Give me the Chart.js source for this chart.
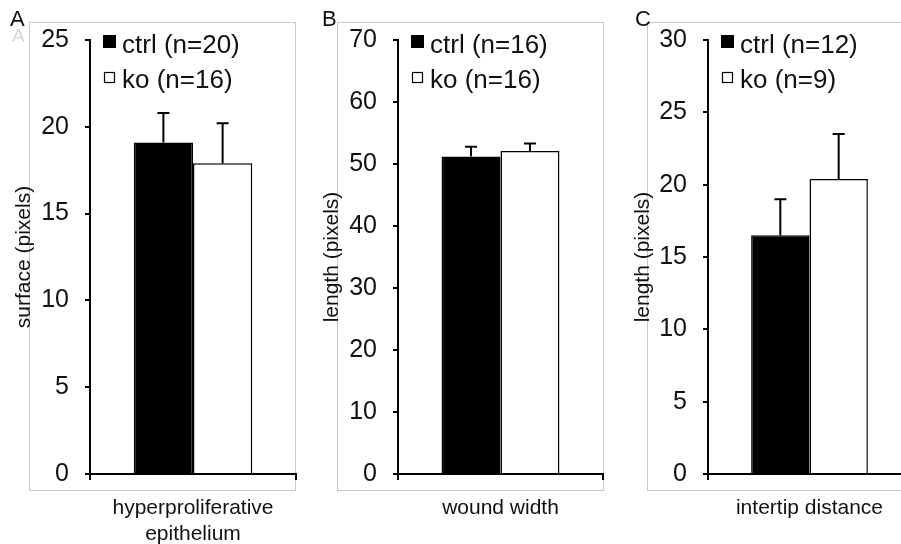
<!DOCTYPE html>
<html>
<head>
<meta charset="utf-8">
<title>ctrl vs ko</title>
<script src="https://cdn.jsdelivr.net/npm/chart.js@4.4.1/dist/chart.umd.min.js"></script>
<style>
  html, body { margin: 0; padding: 0; background: #fff; overflow: hidden; }
  body { width: 901px; height: 544px; position: relative; }
  .panel { position: absolute; top: 0; height: 544px; }
</style>
</head>
<body>
<div class="panel" style="left:0;width:300px"><canvas id="chartA" width="300" height="544"></canvas></div>
<div class="panel" style="left:300px;width:310px"><canvas id="chartB" width="310" height="544"></canvas></div>
<div class="panel" style="left:610px;width:301px"><canvas id="chartC" width="301" height="544"></canvas></div>
<script>
// Panel A - hyperproliferative epithelium
const categoriesA = [['hyperproliferative', 'epithelium']];
const ctrlA = [19.1];
const koA = [17.9];
const ctrlErrA = [1.7];
const koErrA = [2.3];
const legendA = ['ctrl (n=20)', 'ko (n=16)'];
const ticksA = [0, 5, 10, 15, 20, 25];

// Panel B - wound width
const categoriesB = ['wound width'];
const ctrlB = [51.2];
const koB = [52.1];
const ctrlErrB = [1.6];
const koErrB = [1.2];
const legendB = ['ctrl (n=16)', 'ko (n=16)'];
const ticksB = [0, 10, 20, 30, 40, 50, 60, 70];

// Panel C - intertip distance
const categoriesC = ['intertip distance'];
const ctrlC = [16.5];
const koC = [20.4];
const ctrlErrC = [2.5];
const koErrC = [3.1];
const legendC = ['ctrl (n=12)', 'ko (n=9)'];
const ticksC = [0, 5, 10, 15, 20, 25, 30];

const FONT = '"Liberation Sans", Arial, Helvetica, sans-serif';
const INK = '#111';

// frame, panel letter, legend and error bars
const panelDecor = {
    id: 'panelDecor',
    beforeDraw(chart) {
        const o = chart.options.plugins.panelDecor;
        const ctx = chart.ctx;
        ctx.save();
        ctx.fillStyle = '#fff';
        ctx.fillRect(0, 0, chart.width, chart.height);
        ctx.strokeStyle = '#c8c8c8';
        ctx.lineWidth = 1;
        ctx.strokeRect(o.frame[0] + 0.5, o.frame[1] + 0.5, o.frame[2], o.frame[3]);
        ctx.restore();
    },
    afterDraw(chart) {
        const o = chart.options.plugins.panelDecor;
        const ctx = chart.ctx;
        const area = chart.chartArea;
        const yScale = chart.scales.y;
        ctx.save();

        // error bars (upper only)
        ctx.strokeStyle = '#000';
        ctx.lineWidth = 2;
        chart.data.datasets.forEach((ds, i) => {
            const meta = chart.getDatasetMeta(i);
            meta.data.forEach((bar, j) => {
                const top = yScale.getPixelForValue(ds.data[j] + ds.errors[j]);
                ctx.beginPath();
                ctx.moveTo(bar.x, bar.y);
                ctx.lineTo(bar.x, top);
                ctx.moveTo(bar.x - 6, top);
                ctx.lineTo(bar.x + 6, top);
                ctx.stroke();
            });
        });

        // panel letter
        ctx.textBaseline = 'alphabetic';
        if (o.ghost) {
            ctx.fillStyle = '#d4d4d4';
            ctx.font = '19px ' + FONT;
            ctx.fillText(o.letter, o.letterX + 2, 42);
        }
        ctx.fillStyle = INK;
        ctx.font = '22px ' + FONT;
        ctx.fillText(o.letter, o.letterX, 26);

        // legend
        ctx.font = '26px ' + FONT;
        chart.data.datasets.forEach((ds, i) => {
            const sx = area.left + 13;
            const sy = area.top - 5 + i * 36;
            if (i === 0) {
                ctx.fillStyle = '#000';
                ctx.fillRect(sx, sy, 13, 13);
            } else {
                ctx.fillStyle = '#fff';
                ctx.fillRect(sx + 1, sy + 1, 11, 11);
                ctx.strokeStyle = '#000';
                ctx.lineWidth = 1.2;
                ctx.strokeRect(sx + 1.5, sy + 1.5, 10, 10);
            }
            ctx.fillStyle = INK;
            ctx.fillText(ds.label, area.left + 32, area.top + 13 + i * 35);
        });
        ctx.restore();
    }
};

function makePanel(id, cfg) {
    const canvas = document.getElementById(id);
    return new Chart(canvas.getContext('2d'), {
        type: 'bar',
        data: {
            labels: cfg.categories,
            datasets: [{
                label: cfg.legend[0],
                data: cfg.ctrl,
                errors: cfg.ctrlErr,
                backgroundColor: '#000',
                borderColor: '#000',
                borderWidth: 1.5
            }, {
                label: cfg.legend[1],
                data: cfg.ko,
                errors: cfg.koErr,
                backgroundColor: '#fff',
                borderColor: '#000',
                borderWidth: 1.5
            }]
        },
        options: {
            responsive: false,
            devicePixelRatio: 1,
            animation: false,
            barPercentage: 1.0,
            categoryPercentage: 0.575,
            layout: { padding: { top: 40, left: 0, bottom: 0, right: cfg.padRight } },
            plugins: {
                legend: { display: false },
                tooltip: { enabled: false },
                panelDecor: {
                    frame: cfg.frame,
                    letter: cfg.letter,
                    letterX: cfg.letterX,
                    ghost: cfg.ghost
                }
            },
            scales: {
                x: {
                    grid: { display: true, drawOnChartArea: false, drawTicks: true, tickLength: 6, color: '#000', lineWidth: 2 },
                    border: { display: true, color: '#000', width: 2 },
                    ticks: { color: INK, padding: 16, maxRotation: 0, autoSkip: false, font: { family: FONT, size: 21, lineHeight: 1.2 } },
                    afterFit(scale) {
                        scale.height = 70;
                        scale.paddingLeft = 0;
                        scale.paddingRight = 0;
                    }
                },
                y: {
                    min: 0,
                    max: cfg.ticks[cfg.ticks.length - 1],
                    afterBuildTicks(scale) {
                        scale.ticks = cfg.ticks.map(v => ({ value: v }));
                    },
                    grid: { drawOnChartArea: false, drawTicks: true, tickLength: 5, color: '#000', lineWidth: 2 },
                    border: { display: true, color: '#000', width: 2 },
                    ticks: { color: INK, padding: 16, font: { family: FONT, size: 25 } },
                    title: {
                        display: true,
                        text: cfg.yTitle,
                        color: INK,
                        font: { family: FONT, size: 21, lineHeight: 1.2 },
                        padding: { top: cfg.titlePad, bottom: 0 }
                    },
                    afterFit(scale) {
                        scale.width = cfg.axisLeft;
                        scale.paddingTop = 0;
                        scale.paddingBottom = 0;
                    }
                }
            }
        },
        plugins: [panelDecor]
    });
}

function initCharts() {
    makePanel('chartA', {
        categories: categoriesA, ctrl: ctrlA, ko: koA, ctrlErr: ctrlErrA, koErr: koErrA,
        legend: legendA, ticks: ticksA, yTitle: 'surface (pixels)',
        axisLeft: 90, padRight: 4, titlePad: 12,
        frame: [29, 22, 266, 468], letter: 'A', letterX: 10, ghost: true
    });
    makePanel('chartB', {
        categories: categoriesB, ctrl: ctrlB, ko: koB, ctrlErr: ctrlErrB, koErr: koErrB,
        legend: legendB, ticks: ticksB, yTitle: 'length (pixels)',
        axisLeft: 98, padRight: 7, titlePad: 20,
        frame: [37, 22, 266, 468], letter: 'B', letterX: 22, ghost: false
    });
    makePanel('chartC', {
        categories: categoriesC, ctrl: ctrlC, ko: koC, ctrlErr: ctrlErrC, koErr: koErrC,
        legend: legendC, ticks: ticksC, yTitle: 'length (pixels)',
        axisLeft: 98, padRight: 0, titlePad: 21,
        frame: [37, 22, 300, 468], letter: 'C', letterX: 25, ghost: false
    });
}

if (document.readyState === 'loading') {
    document.addEventListener('DOMContentLoaded', initCharts);
} else {
    initCharts();
}
</script>
</body>
</html>
